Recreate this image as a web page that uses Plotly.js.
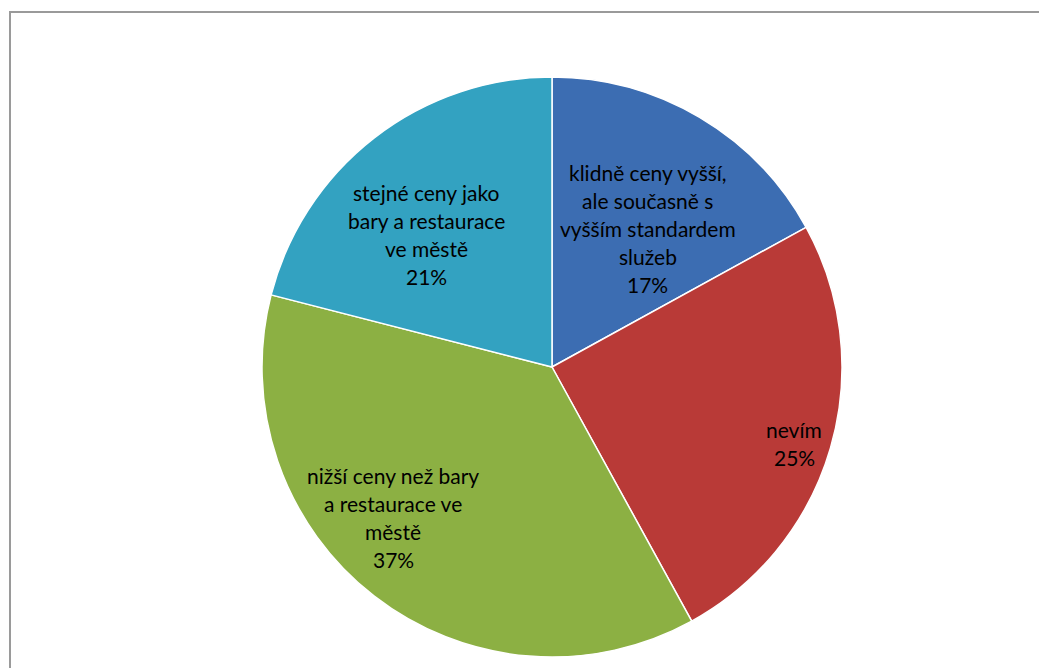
<!DOCTYPE html>
<html>
<head>
<meta charset="utf-8">
<script src="https://cdn.plot.ly/plotly-3.0.1.min.js"></script>
<style>html,body{margin:0;padding:0;background:#fff;}#chart{width:1039px;height:668px;}</style>
</head>
<body>
<div id="chart"></div>
<script>
// ---- data ----
const categories = [
  "klidně ceny vyšší, ale současně s vyšším standardem služeb",
  "nevím",
  "nižší ceny než bary a restaurace ve městě",
  "stejné ceny jako bary a restaurace ve městě"
];
const labelLines = [
  ["klidně ceny vyšší,", "ale současně s", "vyšším standardem", "služeb"],
  ["nevím"],
  ["nižší ceny než bary", "a restaurace ve", "městě"],
  ["stejné ceny jako", "bary a restaurace", "ve městě"]
];
const values = [17, 25, 37, 21];

// ---- style / layout ----
const colors = ["#3c6db2", "#b93a37", "#8cb043", "#33a2c1"];
// label placement (Excel "best fit"): radial fraction and angular nudge (deg)
const labelRadius = [0.58, 0.876, 0.755, 0.63];
const labelNudge = [4.2, 1.4, 8.7, -5.6];

const W = 1039, H = 668;
const cx = 552, cy = 367, R = 290;
const fontSize = 21, lineGap = 28;
const fontFamily = "Lato, 'Open Sans', sans-serif";

const trace = {
  type: "pie",
  labels: categories,
  values: values,
  sort: false,
  direction: "clockwise",
  rotation: 0,
  marker: { colors: colors, line: { color: "#ffffff", width: 1.5 } },
  textinfo: "none",
  hoverinfo: "label+percent",
  showlegend: false,
  domain: {
    x: [(cx - R) / W, (cx + R) / W],
    y: [(H - cy - R) / H, (H - cy + R) / H]
  }
};

const total = values.reduce((a, b) => a + b, 0);
const annotations = [];
let cum = 0;
values.forEach((v, i) => {
  const mid = (cum + v / 2) / total * 360 + labelNudge[i];
  cum += v;
  const a = mid * Math.PI / 180;
  const r = labelRadius[i] * R;
  const px = cx + r * Math.sin(a);
  const py = cy - r * Math.cos(a);
  const lines = labelLines[i].concat([Math.round(v / total * 100) + "%"]);
  const n = lines.length;
  lines.forEach((t, j) => {
    annotations.push({
      xref: "paper", yref: "paper",
      x: px / W, y: 1 - py / H,
      xanchor: "center", yanchor: "middle",
      yshift: -((j - (n - 1) / 2) * lineGap),
      text: t, showarrow: false,
      font: { family: fontFamily, size: fontSize, color: "#000000" }
    });
  });
});

const layout = {
  width: W, height: H,
  margin: { l: 0, r: 0, t: 0, b: 0 },
  paper_bgcolor: "#ffffff",
  showlegend: false,
  annotations: annotations,
  shapes: [{
    type: "rect", xref: "paper", yref: "paper",
    x0: 10 / W, x1: 1.02, y0: -0.02, y1: (H - 12) / H,
    line: { color: "#9a9a9a", width: 2 }, fillcolor: "rgba(0,0,0,0)", layer: "below"
  }]
};

Plotly.newPlot("chart", [trace], layout, { displayModeBar: false, staticPlot: true });
</script>
</body>
</html>
